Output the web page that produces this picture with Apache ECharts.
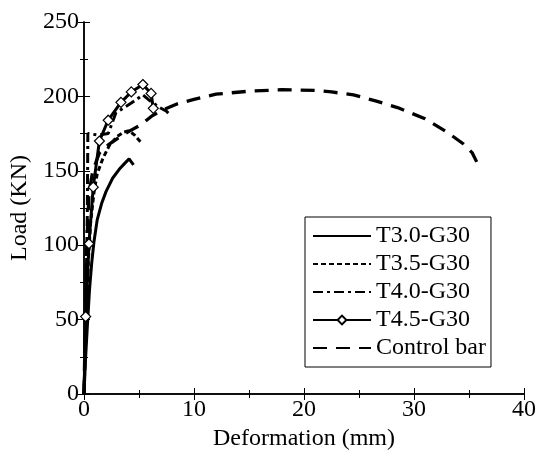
<!DOCTYPE html>
<html><head><meta charset="utf-8">
<script src="https://cdn.jsdelivr.net/npm/echarts@6/dist/echarts.min.js"></script>
<style>html,body{margin:0;padding:0;background:#fff}#c{width:539px;height:459px}</style>
</head><body><div id="c"></div>
<script>
const seriesNames = ['T3.0-G30','T3.5-G30','T4.0-G30','T4.5-G30','Control bar'];
const t30 = [[0,0],[0.15,25],[0.3,45],[0.5,70],[0.7,88],[0.9,102],[1.2,117],[1.6,128],[2.0,136],[2.6,145],[3.2,151],[3.7,155],[4.1,158],[4.5,154]];
const t35 = [[0,0],[0.2,50],[0.4,90],[0.6,115],[0.9,135],[1.2,148],[1.7,158],[2.3,167],[3.0,173],[3.6,176],[4.1,177],[4.6,174],[5.3,168]];
const t40 = [[0,0],[0.15,50],[0.3,120],[0.35,175],[1.3,174],[2.2,175],[2.9,189],[4.3,195.5],[5.35,201],[6.0,197],[7.0,192],[7.5,190],[7.9,187]];
const t45 = [[0,0],[0.15,52],[0.45,101],[0.84,139],[1.4,170],[2.2,184],[3.36,196],[4.3,203],[5.35,208],[6.1,202],[6.3,192]];
const control = [[0,0],[0.1,40],[0.25,100],[0.45,135],[0.8,150],[1.4,162],[2.3,168],[3.3,173],[4.2,177],[5.2,181],[6.2,187],[7.2,191],[8.5,195],[10,198],[12,201.5],[15,203.5],[18,204.5],[21,204],[22.5,203],[24.5,201],[26.5,197],[28.5,192.5],[31,185],[33,176],[34.5,168],[35.3,162],[35.7,156]];
const xTicks = [0,40,10];
const yTicks = [0,250,50];

const font = 'Liberation Serif';
const black = '#000';
const axisCommon = {
  axisLine:{show:true,lineStyle:{color:black,width:1.5}},
  axisTick:{show:true,inside:true,length:6,lineStyle:{color:black,width:1}},
  minorTick:{show:true,splitNumber:2,length:4,lineStyle:{color:black,width:1}},
  splitLine:{show:false}
};
const chart = echarts.init(document.getElementById('c'),null,{renderer:'canvas'});
const lw = 3;
const hidden = {color:black,opacity:0};
const t45Data = t45.map((p,i)=> i===0 ? {value:p,symbol:'none'} : p);
chart.setOption({
  animation:false,
  backgroundColor:'#fff',
  grid:{left:84,right:11,top:22,bottom:65},
  legend:{
    orient:'vertical',left:305,top:217,
    itemWidth:58,itemHeight:11,itemGap:4,
    padding:[7,5,7,7],
    borderColor:black,borderWidth:1,
    textStyle:{fontFamily:font,fontSize:24,color:black},
    data:seriesNames
  },
  xAxis:[
    Object.assign({type:'value',min:xTicks[0],max:xTicks[1],interval:xTicks[2],
      name:'Deformation (mm)',nameLocation:'middle',nameGap:30,
      nameTextStyle:{fontFamily:font,fontSize:24,color:black},
      axisLabel:{fontFamily:font,fontSize:24,color:black,margin:4}},axisCommon),
    Object.assign({type:'value',position:'top',min:xTicks[0],max:xTicks[1],interval:xTicks[2],
      axisLabel:{show:false}},axisCommon)
  ],
  yAxis:[
    Object.assign({type:'value',min:yTicks[0],max:yTicks[1],interval:yTicks[2],
      name:'Load (KN)',nameLocation:'middle',nameGap:46,
      nameTextStyle:{fontFamily:font,fontSize:24,color:black},
      axisLabel:{fontFamily:font,fontSize:24,color:black,margin:5}},axisCommon),
    Object.assign({type:'value',position:'right',min:yTicks[0],max:yTicks[1],interval:yTicks[2],
      axisLabel:{show:false}},axisCommon)
  ],
  series:[
    {name:seriesNames[0],type:'line',data:t30,showSymbol:false,symbol:'none',
      lineStyle:{color:black,width:lw,type:'solid'},itemStyle:hidden},
    {name:seriesNames[1],type:'line',data:t35,showSymbol:false,symbol:'none',
      lineStyle:{color:black,width:lw,type:[5,3]},itemStyle:hidden},
    {name:seriesNames[2],type:'line',data:t40,showSymbol:false,symbol:'none',
      lineStyle:{color:black,width:lw,type:[10,4,3,4]},itemStyle:hidden},
    {name:seriesNames[3],type:'line',data:t45Data,symbol:'diamond',symbolSize:10,showSymbol:true,
      lineStyle:{color:black,width:lw,type:'solid'},
      itemStyle:{color:'#fff',borderColor:black,borderWidth:1.2}},
    {name:seriesNames[4],type:'line',data:control,showSymbol:false,symbol:'none',
      lineStyle:{color:black,width:lw+0.3,type:[14,9]},itemStyle:hidden}
  ]
});
</script></body></html>
